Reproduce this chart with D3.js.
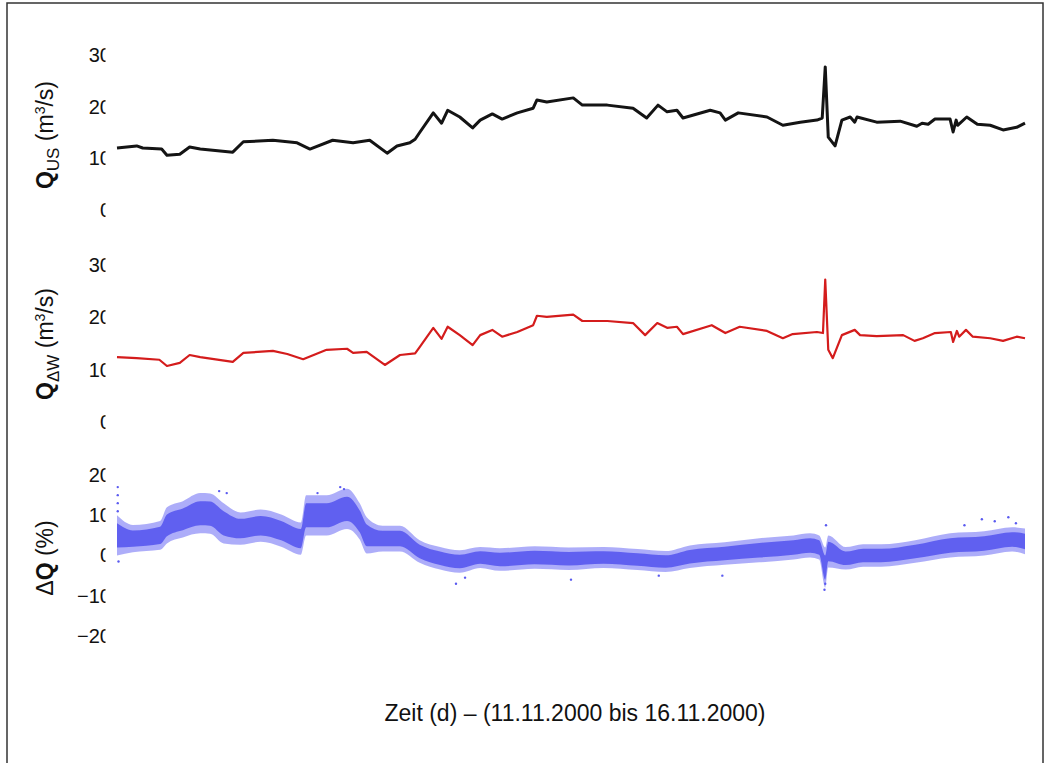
<!DOCTYPE html>
<html><head><meta charset="utf-8">
<script src="https://cdn.jsdelivr.net/npm/d3@7"></script>
<style>
html,body{margin:0;padding:0;background:#fff;}
svg{display:block;font-family:"Liberation Sans",Arial,Helvetica,sans-serif;}
</style></head>
<body>
<svg id="c" width="1052" height="763"></svg>
<script>
// ---- data (time in hours from 11.11.2000 00:00) ----
const usT = [0,2.6,3.4,5.9,6.6,8.3,9.6,11.0,15.3,16.7,20.6,23.8,25.5,28.5,31.2,33.4,35.7,37.0,38.7,39.4,40.0,41.8,42.9,43.7,45.3,47.0,48.0,49.6,50.9,52.9,55.0,55.5,56.8,60.3,61.5,64.8,68.2,70.0,71.5,72.7,74.0,74.8,78.4,79.7,80.4,82.1,85.9,88.0,90.3,92.5,93.2,93.6,94.0,94.9,95.8,96.9,97.5,97.8,100.4,103.5,105.7,106.4,107.2,108.1,110.1,110.5,110.9,111.1,112.3,113.7,115.4,117.1,118.9,120];
const usQ = [12.0,12.4,12.0,11.8,10.6,10.8,12.2,11.8,11.2,13.2,13.5,13.0,11.8,13.5,13.0,13.5,11.0,12.4,13.0,13.7,15.0,18.8,16.8,19.3,18.0,15.9,17.4,18.6,17.6,18.8,19.7,21.3,20.9,21.7,20.3,20.3,19.7,17.8,20.3,19.0,19.3,17.8,19.3,18.8,17.4,18.8,18.0,16.4,17.0,17.4,17.8,27.7,14.1,12.4,17.4,18.0,17.0,18.0,17.0,17.2,16.2,16.8,16.6,17.6,17.6,15.1,17.4,16.4,18.0,16.6,16.4,15.5,16.0,16.8];

const dwT = [0,2.6,5.6,6.6,8.3,9.6,11.0,15.3,16.7,20.6,22.5,24.6,27.7,30.4,31.2,33.0,35.4,37.4,39.4,40.0,41.8,42.9,43.7,45.3,47.0,48.0,49.6,50.9,52.9,55.0,55.5,56.8,60.3,61.5,64.8,68.2,69.8,71.4,72.7,74.0,74.8,78.6,80.4,82.3,85.9,88.0,89.3,92.5,93.3,93.6,94.0,94.6,95.8,97.5,98.2,100.4,103.9,105.4,106.5,108.1,110.2,110.5,111.0,111.3,112.2,113.1,115.4,117.1,118.9,120];
const dwQ = [12.4,12.2,11.9,10.7,11.3,12.8,12.4,11.5,13.2,13.6,13.0,12.0,13.8,14.0,13.2,13.4,10.9,12.8,13.1,14.3,18.0,15.9,18.2,16.6,14.7,16.6,17.6,16.3,17.2,18.5,20.3,20.1,20.5,19.3,19.3,18.9,16.6,18.9,18.0,18.2,16.8,18.5,17.0,18.2,17.4,16.0,16.8,17.2,17.0,27.2,13.8,12.2,16.6,17.6,16.6,16.4,16.6,15.5,16.0,17.0,17.2,15.3,17.4,16.3,17.6,16.3,16.0,15.5,16.3,16.0];

const dT   = [0,2.1,5.7,6.6,8.7,11.0,12.3,14.1,16.3,19.0,21.7,24.3,25.0,27.7,30.4,32.1,33.0,35.1,37.4,40.0,42.7,45.3,48.0,50.6,55.2,59.7,64.3,68.8,72.5,75.7,80.3,84.9,89.4,91.6,92.8,93.6,94.0,96.3,98.6,101.0,105.5,110.1,114.6,118.3,120];
const dMid = [5.0,4.2,5.0,7.5,9.0,10.5,10.4,8.0,6.7,7.4,6.2,4.2,10.0,10.0,11.6,8.4,5.0,4.2,4.2,1.0,-0.7,-1.5,-0.5,-1.0,-0.5,-0.8,-0.5,-1.0,-1.5,-0.3,0.5,1.3,2.0,2.5,2.0,-3.0,1.0,-0.7,0.0,0.0,1.0,2.5,3.0,4.0,3.5];
const dHw  = [5.0,3.4,3.6,4.5,4.5,5.0,5.0,5.0,4.0,4.0,4.0,4.0,5.0,5.0,5.0,4.5,4.5,3.2,3.2,2.8,2.8,2.8,2.6,2.8,2.8,2.8,2.6,2.6,2.6,2.8,2.8,3.0,3.0,3.0,3.0,5.0,4.0,2.8,2.8,2.8,2.8,3.0,3.0,3.0,3.2];
// isolated points visible outside the dense band
const outT = [0.1,0.1,0.1,0.1,0.2,13.5,14.5,26.5,29.5,30.0,44.8,46.0,71.6,93.5,93.6,93.7,112.0,114.3,116.0,117.8,118.8,60.0,80.0];
const outV = [17.0,15.0,13.0,11.0,-1.5,16.0,15.5,15.5,17.0,16.5,-7.0,-5.5,-5.0,-8.5,-7.0,7.5,7.5,9.0,8.5,9.5,8.0,-6.0,-5.0];

const panelTicks1 = [0,10,20,30];
const panelTicks2 = [0,10,20,30];
const panelTicks3 = [-20,-10,0,10,20];
const xTitle = "Zeit (d) \u2013 (11.11.2000 bis 16.11.2000)";

// ---- layout ----
const svg = d3.select("#c");
svg.append("rect").attr("x",7).attr("y",3).attr("width",1036).attr("height",790)
  .attr("fill","#fff").attr("stroke","#333").attr("stroke-width",1.5);

const x = d3.scaleLinear().domain([0,120]).range([117,1025]);
const y1 = d3.scaleLinear().domain([0,30]).range([210,55]);
const y2 = d3.scaleLinear().domain([0,30]).range([422,265]);
const y3 = d3.scaleLinear().domain([-20,20]).range([636,475]);

// clip for truncated tick labels (as in the original)
svg.append("defs").append("clipPath").attr("id","tclip")
  .append("rect").attr("x",0).attr("y",0).attr("width",105.5).attr("height",763);

function axis(scale, ticks){
  const wrap = svg.append("g").attr("clip-path","url(#tclip)");
  const inner = wrap.append("g").attr("transform","translate(111,0)");
  inner.call(d3.axisLeft(scale).tickValues(ticks).tickSize(0).tickPadding(0)
      .tickFormat(d => d < 0 ? "\u2212" + Math.abs(d) : String(d)));
  inner.select(".domain").remove();
  inner.selectAll("text").attr("font-size",20).attr("fill","#111")
    .attr("font-family","'Liberation Sans',Arial,sans-serif");
}
axis(y1, panelTicks1);
axis(y2, panelTicks2);
axis(y3, panelTicks3);

// y labels
function ylab(cy, parts){
  const t = svg.append("text").attr("transform",`translate(53,${cy}) rotate(-90)`)
    .attr("text-anchor","middle").attr("font-size",23).attr("fill","#111");
  parts.forEach(p => {
    const s = t.append("tspan").text(p.t);
    if (p.b) s.attr("font-weight","bold");
    if (p.sub) s.attr("font-size",17).attr("dy",p.dy);
    if (p.sup) s.attr("font-size",14).attr("dy",p.dy);
    if (p.back) s.attr("dy",p.dy);
  });
}
ylab(135,[{t:"Q",b:true},{t:"US",sub:true,dy:6},{t:" (m",back:true,dy:-6},{t:"3",sup:true,dy:-8},{t:"/s)",back:true,dy:8}]);
ylab(344,[{t:"Q",b:true},{t:"\u0394W",sub:true,dy:6},{t:" (m",back:true,dy:-6},{t:"3",sup:true,dy:-8},{t:"/s)",back:true,dy:8}]);
ylab(558,[{t:"\u0394"},{t:"Q",b:true},{t:" (%)"}]);

// lines
const l1 = d3.line().x((d,i)=>x(usT[i])).y(d=>y1(d));
svg.append("path").datum(usQ).attr("d",l1).attr("fill","none")
  .attr("stroke","#141414").attr("stroke-width",3).attr("stroke-linejoin","round");

const l2 = d3.line().x((d,i)=>x(dwT[i])).y(d=>y2(d));
svg.append("path").datum(dwQ).attr("d",l2).attr("fill","none")
  .attr("stroke","#d41c1c").attr("stroke-width",2.2).attr("stroke-linejoin","round");

// delta Q scatter band
const outer = d3.area().x((d,i)=>x(dT[i])).y0((d,i)=>y3(d - dHw[i])).y1((d,i)=>y3(d + dHw[i])).curve(d3.curveMonotoneX);
const inner = d3.area().x((d,i)=>x(dT[i])).y0((d,i)=>y3(d - dHw[i]*0.6)).y1((d,i)=>y3(d + dHw[i]*0.6)).curve(d3.curveMonotoneX);
svg.append("path").datum(dMid).attr("d",outer).attr("fill","#a4a4f8").attr("opacity",0.9);
svg.append("path").datum(dMid).attr("d",inner).attr("fill","#5252ee").attr("opacity",0.85);
svg.append("g").selectAll("circle").data(outV).join("circle")
  .attr("cx",(d,i)=>x(outT[i])).attr("cy",d=>y3(d)).attr("r",1.2).attr("fill","#5a5af0");

// x title
svg.append("text").attr("x",575).attr("y",721).attr("text-anchor","middle")
  .attr("font-size",23).attr("fill","#111").text(xTitle);
</script>
</body></html>
